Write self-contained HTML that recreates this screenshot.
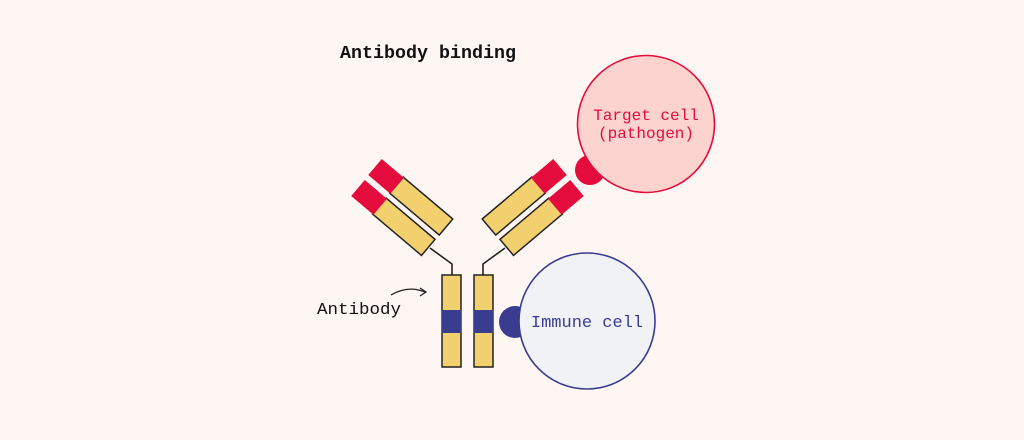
<!DOCTYPE html>
<html><head><meta charset="utf-8"><style>
html,body{margin:0;padding:0;background:#fdf6f3;}
svg{display:block}
text{font-family:"Liberation Mono","DejaVu Sans Mono",monospace;}
</style></head><body>
<svg width="1024" height="440" viewBox="0 0 1024 440" xmlns="http://www.w3.org/2000/svg">
<rect width="1024" height="440" fill="#fdf6f3"/>
<text x="340" y="58" font-size="18" font-weight="bold" fill="#111" textLength="176" lengthAdjust="spacingAndGlyphs">Antibody binding</text>

<!-- target cell -->
<circle cx="590" cy="170" r="15" fill="#e30c3c"/>
<circle cx="646" cy="124" r="68.5" fill="#fdd3cf" stroke="#e30c3c" stroke-width="1.6"/>
<text x="646" y="120" font-size="16" fill="#e30c3c" text-anchor="middle">Target cell</text>
<text x="646" y="138" font-size="16" fill="#e30c3c" text-anchor="middle">(pathogen)</text>

<!-- immune cell -->
<circle cx="515" cy="322" r="16" fill="#3a3c8f"/>
<circle cx="587" cy="321" r="68" fill="#f0f2f5" stroke="#3a3c8f" stroke-width="1.6"/>
<text x="587" y="327" font-size="17" fill="#3a3c8f" text-anchor="middle">Immune cell</text>

<!-- connectors -->
<path d="M430 248 L452 264 L452 275" fill="none" stroke="#222" stroke-width="1.6"/>
<path d="M505 248 L483 264 L483 275" fill="none" stroke="#222" stroke-width="1.6"/>

<!-- left arms -->
<g transform="translate(375,167) rotate(40.2)">
<rect x="28" y="-10.5" width="65" height="21" fill="#f2d06e" stroke="#222" stroke-width="1.5"/>
<rect x="0" y="-10.5" width="29" height="21" fill="#e30c3c"/>
</g>
<g transform="translate(358,188) rotate(40.2)">
<rect x="28" y="-10.5" width="64" height="21" fill="#f2d06e" stroke="#222" stroke-width="1.5"/>
<rect x="0" y="-10.5" width="29" height="21" fill="#e30c3c"/>
</g>
<!-- right arms -->
<g transform="translate(560,167) rotate(139.8)">
<rect x="28" y="-10.5" width="65" height="21" fill="#f2d06e" stroke="#222" stroke-width="1.5"/>
<rect x="0" y="-10.5" width="29" height="21" fill="#e30c3c"/>
</g>
<g transform="translate(577,188) rotate(139.8)">
<rect x="28" y="-10.5" width="64" height="21" fill="#f2d06e" stroke="#222" stroke-width="1.5"/>
<rect x="0" y="-10.5" width="29" height="21" fill="#e30c3c"/>
</g>

<!-- stem -->
<rect x="442" y="275" width="19" height="92" fill="#f2d06e" stroke="#222" stroke-width="1.5"/>
<rect x="474" y="275" width="19" height="92" fill="#f2d06e" stroke="#222" stroke-width="1.5"/>
<rect x="441.5" y="310" width="20" height="23" fill="#3a3c8f"/>
<rect x="473.5" y="310" width="20" height="23" fill="#3a3c8f"/>

<!-- label -->
<text x="317" y="314" font-size="17" fill="#111" textLength="84" lengthAdjust="spacingAndGlyphs">Antibody</text>
<path d="M391 295 Q408 285 425 292" fill="none" stroke="#222" stroke-width="1.3"/>
<path d="M420 288 L426 292 L420 296" fill="none" stroke="#222" stroke-width="1.3"/>
</svg>
</body></html>
